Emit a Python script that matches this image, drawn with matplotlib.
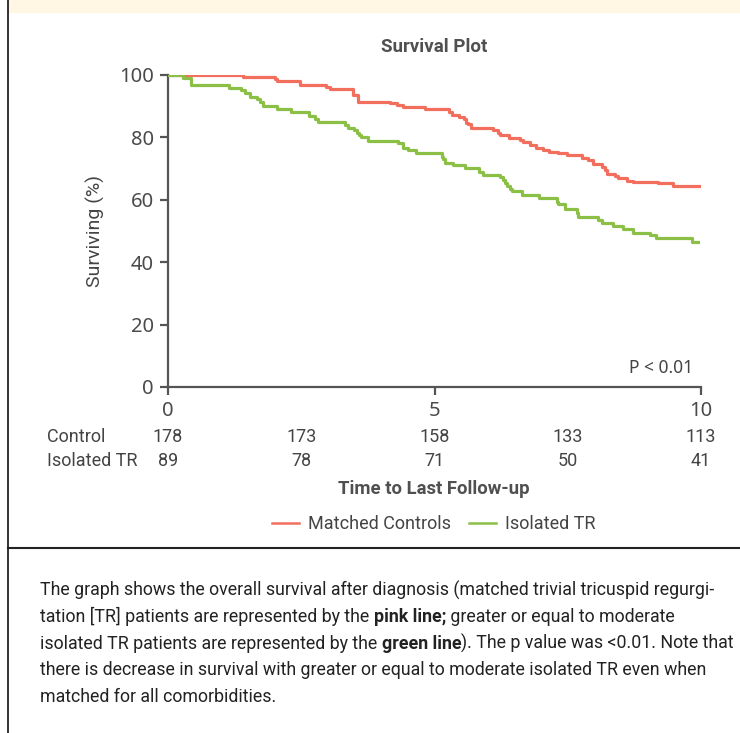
import matplotlib
matplotlib.use('Agg')
import matplotlib.pyplot as plt
from matplotlib.lines import Line2D

# Kaplan-Meier steps (time in years, survival in %)
control_t = [0, 1.41, 2.01, 2.05, 2.48, 2.96, 3.04, 3.47, 3.56, 4.17, 4.30, 4.41, 4.82,
             5.27, 5.33, 5.46, 5.55, 5.59, 5.63, 5.68, 6.10, 6.19, 6.23, 6.40, 6.60, 6.66,
             6.79, 6.90, 7.04, 7.15, 7.32, 7.49, 7.77, 7.88, 7.97, 8.14, 8.20, 8.24, 8.39,
             8.44, 8.61, 8.72, 9.19, 9.47, 9.98]
control_s = [100, 99.4, 98.7, 98.1, 96.8, 96.2, 95.4, 93.6, 91.4, 90.9, 90.4, 89.8, 89.0,
             88.3, 87.2, 86.6, 85.8, 84.7, 84.2, 83.1, 82.4, 81.5, 80.8, 79.9, 79.2, 78.6,
             77.6, 76.7, 76.0, 75.4, 74.9, 74.4, 73.5, 72.8, 71.5, 70.6, 69.6, 68.3, 67.6,
             66.9, 66.1, 65.6, 65.3, 64.5, 64.5]

tr_t = [0, 0.28, 0.43, 1.14, 1.37, 1.44, 1.54, 1.67, 1.73, 1.78, 2.05, 2.31, 2.65, 2.76,
        2.81, 3.32, 3.38, 3.49, 3.55, 3.58, 3.62, 3.75, 4.32, 4.41, 4.50, 4.65, 5.14, 5.16,
        5.20, 5.35, 5.57, 5.83, 5.91, 6.23, 6.29, 6.32, 6.36, 6.42, 6.45, 6.64, 6.96, 7.30,
        7.32, 7.45, 7.67, 7.69, 8.07, 8.14, 8.35, 8.54, 8.72, 9.04, 9.16, 9.83, 9.94]
tr_s = [100, 99.0, 96.8, 95.9, 95.2, 94.1, 93.0, 92.3, 91.2, 90.2, 89.0, 88.0, 86.9, 85.8,
        84.8, 84.0, 83.1, 82.4, 81.5, 80.8, 80.0, 78.9, 78.1, 76.7, 76.0, 75.1, 73.8, 73.0,
        71.7, 71.2, 70.1, 69.0, 67.9, 67.2, 66.3, 65.5, 64.4, 63.4, 62.9, 61.5, 60.5, 59.4,
        58.7, 57.0, 55.7, 54.6, 53.5, 52.7, 51.6, 50.5, 49.5, 48.7, 47.9, 46.6, 46.6]

risk_times = [0, 2.5, 5, 7.5, 10]
risk_control = [178, 173, 158, 133, 113]
risk_tr = [89, 78, 71, 50, 41]

RED = '#f26f5e'
GREEN = '#8cbf45'
GREY = '#444444'
NARROW = ['Roboto', 'DejaVu Sans']
WIDE = ['Noto Sans', 'DejaVu Sans']

W, H = 740, 733
fig = plt.figure(figsize=(W / 100, H / 100), dpi=100)

def fx(px):
    return px / W

def fy(py):
    return 1 - py / H

# frame decorations
fig.patches.append(plt.Rectangle((fx(8), fy(12)), 1, 12 / H, transform=fig.transFigure,
                                 color='#fff7e4', zorder=0))
fig.add_artist(Line2D([fx(7.5), fx(7.5)], [0, 1], color='#222222', lw=1.3))
fig.add_artist(Line2D([fx(7.5), 1], [fy(548), fy(548)], color='#222222', lw=1.5))

ax = fig.add_axes([fx(168), fy(387), fx(701) - fx(168), fy(75) - fy(387)])
ax.step(control_t, control_s, where='post', color=RED, lw=2.3, zorder=3)
ax.step(tr_t, tr_s, where='post', color=GREEN, lw=2.3, zorder=3)
ax.set_xlim(0, 10)
ax.set_ylim(0, 100)
ax.set_xticks([0, 5, 10])
ax.set_yticks([0, 20, 40, 60, 80, 100])
for s in ['top', 'right']:
    ax.spines[s].set_visible(False)
for s in ['left', 'bottom']:
    ax.spines[s].set_color('#555555')
    ax.spines[s].set_linewidth(1.6)
ax.tick_params(length=6, width=1.6, color='#555555', labelcolor='#4a4a4a',
               labelsize=14.5, pad=4)
for lab in ax.get_xticklabels() + ax.get_yticklabels():
    lab.set_fontfamily(WIDE)
ax.set_ylabel('Surviving (%)', fontsize=14, color=GREY, family=NARROW, labelpad=10)
ax.text(0.985, 0.06, 'P < 0.01', transform=ax.transAxes, ha='right', va='center',
        fontsize=12.5, color=GREY, family=WIDE)

fig.text(fx(434), fy(47), 'Survival Plot', ha='center', va='center', fontsize=13.5,
         fontweight='bold', color='#505050', family=NARROW)

# numbers at risk
for row, label, counts in [(437, 'Control', risk_control), (461, 'Isolated TR', risk_tr)]:
    fig.text(fx(47), fy(row), label, ha='left', va='center', fontsize=13,
             color=GREY, family=NARROW)
    for t, n in zip(risk_times, counts):
        x = ax.transData.transform((t, 0))[0]
        fig.text(x / W, fy(row), str(n), ha='center', va='center', fontsize=13,
                 color=GREY, family=NARROW)

fig.text(fx(434), fy(489), 'Time to Last Follow-up', ha='center', va='center',
         fontsize=13.3, fontweight='bold', color='#505050', family=NARROW)

# legend
handles = [Line2D([], [], color=RED, lw=1.8), Line2D([], [], color=GREEN, lw=1.8)]
leg = fig.legend(handles, ['Matched Controls', 'Isolated TR'], loc='center',
                 bbox_to_anchor=(fx(434), fy(524)), ncol=2, frameon=False,
                 handlelength=1.5, handletextpad=0.5, columnspacing=1.0,
                 prop={'family': NARROW, 'size': 13})
for t in leg.get_texts():
    t.set_color(GREY)

# caption with bold pieces
caption = [
    [('The graph shows the overall survival after diagnosis (matched trivial tricuspid regurgi-', 'normal')],
    [('tation [TR] patients are represented by the ', 'normal'), ('pink line;', 'bold'),
     (' greater or equal to moderate', 'normal')],
    [('isolated TR patients are represented by the ', 'normal'), ('green line', 'bold'),
     ('). The p value was <0.01. Note that', 'normal')],
    [('there is decrease in survival with greater or equal to moderate isolated TR even when', 'normal')],
    [('matched for all comorbidities.', 'normal')],
]
renderer = fig.canvas.get_renderer()
# fit the caption size so the first line spans the same width as in the original
probe = fig.text(0, 0, caption[0][0][0], fontsize=12, family=NARROW)
cap_size = min(13.5, 12 * 672 / probe.get_window_extent(renderer).width)
probe.remove()
for i, parts in enumerate(caption):
    x = fx(40)
    y = fy(590 + i * 26.8)
    for txt, wt in parts:
        t = fig.text(x, y, txt, ha='left', va='center', fontsize=cap_size, fontweight=wt,
                     color='#222222', family=NARROW)
        bb = t.get_window_extent(renderer)
        x = bb.x1 / W

fig.savefig('out.png', dpi=100)
